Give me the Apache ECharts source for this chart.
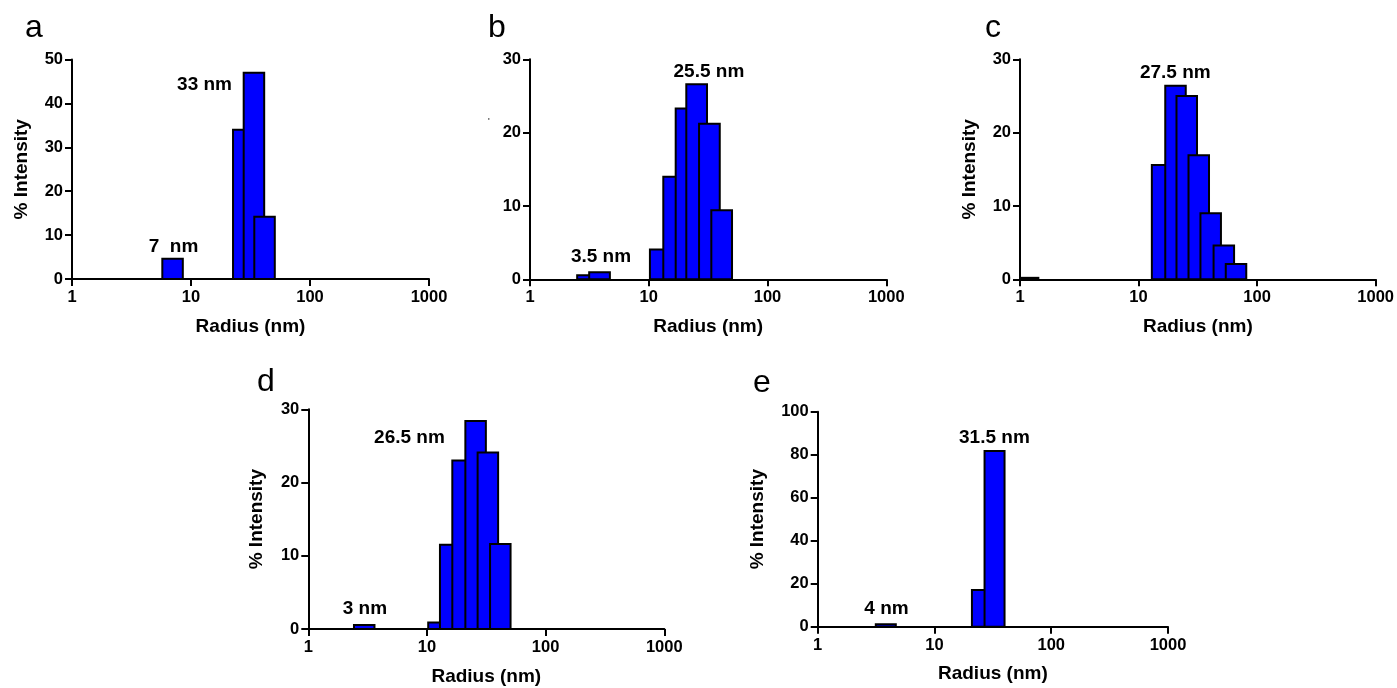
<!DOCTYPE html>
<html><head><meta charset="utf-8">
<script src="https://cdn.jsdelivr.net/npm/echarts@6/dist/echarts.min.js"></script>
<style>html,body{margin:0;padding:0;background:#fff}#c{width:1397px;height:688px}</style>
</head><body><div id="c"></div>
<script>
// ---- data ----
const panelLetters = ['a', 'b', 'c', 'd', 'e'];
const xTickLabels = ['1', '10', '100', '1000'];
const yMax = [50, 30, 30, 30, 100];
const yStep = [10, 10, 10, 10, 20];

const radiusA = [7, 27.5, 33.8, 41.5];
const intensityA = [4.6, 34.0, 47.0, 14.2];
const radiusB = [3.05, 3.85, 12.5, 16.2, 20.6, 25.3, 32.4, 41.1];
const intensityB = [0.55, 0.95, 4.05, 14.0, 23.3, 26.6, 21.2, 9.4];
const radiusC = [1.17, 15.8, 20.5, 25.5, 32.2, 40.6, 52.4, 66.4];
const intensityC = [0.2, 15.6, 26.4, 25.0, 16.9, 9.0, 4.6, 2.1];
const radiusD = [2.96, 12.5, 15.7, 19.95, 25.7, 32.6, 41.5];
const intensityD = [0.55, 0.9, 11.5, 23.0, 28.4, 24.1, 11.6];
const radiusE = [3.83, 25.5, 32.7];
const intensityE = [1.1, 17.1, 81.7];

const peakTextA = ['33 nm', '7  nm'];
const peakAtA = [[13.0, 44.2], [7.13, 7.3]];
const peakTextB = ['25.5 nm', '3.5 nm'];
const peakAtB = [[32.1, 28.3], [3.96, 3.04]];
const peakTextC = ['27.5 nm'];
const peakAtC = [[20.4, 28.1]];
const peakTextD = ['26.5 nm', '3 nm'];
const peakAtD = [[7.12, 26.1], [3.0, 2.73]];
const peakTextE = ['31.5 nm', '4 nm'];
const peakAtE = [[32.6, 87.9], [3.88, 8.2]];

const xTitle = 'Radius (nm)';
const yTitle = '% Intensity';

// ---- layout / style ----
const FONT = 'Arial, "Liberation Sans", sans-serif';
const BLUE = '#0000FF';
const panels = [
  {x: radiusA, y: intensityA, t: peakTextA, at: peakAtA, grid: {left: 72, top: 59.5, width: 357, height: 219.5}, yName: true, gap: 41, bw: 20.5},
  {x: radiusB, y: intensityB, t: peakTextB, at: peakAtB, grid: {left: 530, top: 59.3, width: 356.3, height: 220}, yName: false, gap: 41, bw: 20.7},
  {x: radiusC, y: intensityC, t: peakTextC, at: peakAtC, grid: {left: 1020, top: 59.3, width: 356, height: 220}, yName: true, gap: 41, bw: 20.5},
  {x: radiusD, y: intensityD, t: peakTextD, at: peakAtD, grid: {left: 308.3, top: 409.3, width: 356, height: 219.7}, yName: true, gap: 42, bw: 20.5},
  {x: radiusE, y: intensityE, t: peakTextE, at: peakAtE, grid: {left: 817.7, top: 411.7, width: 350.3, height: 215}, yName: true, gap: 50, bw: 20}
];
const letterPos = [[25, 30.5], [488, 30.5], [985, 30.5], [257, 384.5], [753, 385.5]];

const grids = [], xAxes = [], yAxes = [], series = [];
panels.forEach((p, i) => {
  grids.push(Object.assign({containLabel: false}, p.grid));
  xAxes.push({
    type: 'log', logBase: 10, min: 1, max: 1000, gridIndex: i,
    name: xTitle, nameLocation: 'middle', nameGap: 38,
    nameTextStyle: {fontSize: 19, fontWeight: 'bold', fontFamily: FONT, color: '#000'},
    axisLine: {onZero: false, lineStyle: {color: '#000', width: 2}},
    axisTick: {show: true, length: 7, lineStyle: {color: '#000', width: 2}},
    minorTick: {show: false}, splitLine: {show: false},
    axisLabel: {margin: 10, fontSize: 16.5, fontWeight: 'bold', fontFamily: FONT, color: '#000',
      formatter: v => { const k = Math.round(Math.log10(v)); return xTickLabels[k] !== undefined ? xTickLabels[k] : ''; }}
  });
  yAxes.push({
    type: 'value', min: 0, max: yMax[i], interval: yStep[i], gridIndex: i,
    name: p.yName ? yTitle : '', nameLocation: 'middle', nameGap: p.gap, nameRotate: 90,
    nameTextStyle: {fontSize: 19, fontWeight: 'bold', fontFamily: FONT, color: '#000'},
    axisLine: {show: true, onZero: false, lineStyle: {color: '#000', width: 2}},
    axisTick: {show: true, length: 7, lineStyle: {color: '#000', width: 2}},
    splitLine: {show: false},
    axisLabel: {margin: 9, fontSize: 16.5, fontWeight: 'bold', fontFamily: FONT, color: '#000'}
  });
  const bw = p.bw;
  series.push({
    type: 'custom', xAxisIndex: i, yAxisIndex: i, z: 1,
    data: p.x.map((v, j) => [v, p.y[j]]),
    renderItem: (params, api) => {
      const top = api.coord([api.value(0), api.value(1)]);
      const base = api.coord([api.value(0), 0]);
      const cs = params.coordSys;
      const r = echarts.graphic.clipRectByRect(
        {x: top[0] - bw / 2, y: top[1], width: bw, height: base[1] - top[1]},
        {x: cs.x, y: cs.y, width: cs.width, height: cs.height});
      if (!r) return null;
      return {type: 'rect', shape: r, style: {fill: BLUE, stroke: '#000', lineWidth: 2}};
    }
  });
  series.push({
    type: 'custom', xAxisIndex: i, yAxisIndex: i, z: 5,
    data: p.at,
    renderItem: (params, api) => {
      const pt = api.coord([api.value(0), api.value(1)]);
      return {type: 'text', x: pt[0], y: pt[1], style: {
        text: p.t[params.dataIndex], align: 'center', verticalAlign: 'middle',
        fontSize: 19, fontWeight: 'bold', fontFamily: FONT, fill: '#000'}};
    }
  });
});

const graphics = panelLetters.map((l, i) => ({
  type: 'text', left: letterPos[i][0], top: letterPos[i][1] - 18,
  style: {text: l, fontSize: 32, fontFamily: FONT, fill: '#000'}
}));
graphics.push({type: 'text', left: 488, top: 117, style: {text: "'", fontSize: 9, fontFamily: FONT, fill: '#000'}});

const chart = echarts.init(document.getElementById('c'), null, {renderer: 'canvas'});
chart.setOption({
  animation: false,
  backgroundColor: '#fff',
  grid: grids, xAxis: xAxes, yAxis: yAxes, series: series,
  graphic: graphics
});
</script></body></html>
